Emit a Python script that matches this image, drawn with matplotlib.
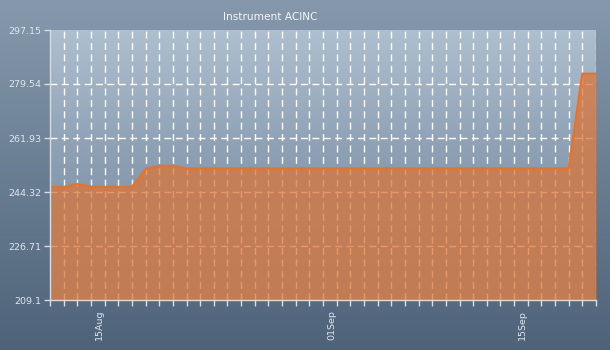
import numpy as np
import pandas as pd
import matplotlib
matplotlib.use("Agg")
import matplotlib.pyplot as plt
import matplotlib.dates as mdates
import matplotlib.transforms as mtrans
from matplotlib.colors import LinearSegmentedColormap

title = "Instrument ACINC"
dates = pd.date_range("2014-08-11", "2014-09-20", freq="D")
values = ([246.0, 246.0, 246.9, 246.1, 246.0, 246.0, 246.0, 251.8, 252.9, 252.9, 251.9]
          + [252.0] * 28 + [282.9, 282.9])
y_ticks = [209.1, 226.71, 244.32, 261.93, 279.54, 297.15]
x_label_dates = ["2014-08-15", "2014-09-01", "2014-09-15"]
x_label_texts = ["15Aug", "01Sep", "15Sep"]

W, H = 610, 350
fig = plt.figure(figsize=(W / 100, H / 100), dpi=100)

# figure background gradient
bg = fig.add_axes([0, 0, 1, 1], zorder=-10)
grad = np.linspace(0, 1, 256).reshape(-1, 1)
cm_bg = LinearSegmentedColormap.from_list("bg", ["#8699ac", "#4e6379"])
bg.imshow(grad, aspect="auto", cmap=cm_bg, extent=[0, 1, 0, 1], origin="upper")
bg.set_axis_off()

ax = fig.add_axes([50 / W, (H - 300) / H, (596 - 50) / W, (300 - 30) / H])
ax.patch.set_alpha(0)
x0, x1 = mdates.date2num(dates[0]), mdates.date2num(dates[-1])
cm_pl = LinearSegmentedColormap.from_list("pl", ["#aebfcf", "#8a9db1", "#7a8ea4"])
ax.imshow(grad, aspect="auto", cmap=cm_pl, extent=[x0, x1, y_ticks[0], y_ticks[-1]],
          origin="upper", zorder=0)

# grid
for d in dates[1:]:
    ax.axvline(mdates.date2num(d), color="white", lw=1.0, ls=(0, (5, 3.2)), zorder=1)
for yv in y_ticks[1:-1]:
    ax.axhline(yv, color="white", lw=1.0, ls=(0, (5, 3.2)), zorder=1)

xn = mdates.date2num(dates)
ax.fill_between(xn, y_ticks[0], values, color="#da763a", alpha=0.75, lw=0, zorder=2)
ax.plot(xn, values, color="#f0701e", lw=1.6, zorder=3)

ax.set_xlim(x0, x1)
ax.set_ylim(y_ticks[0], y_ticks[-1])
ax.set_yticks(y_ticks)
ax.set_yticklabels([f"{v:g}" for v in y_ticks])
ax.set_xticks(xn)
lbl_map = dict(zip(pd.to_datetime(x_label_dates), x_label_texts))
ax.set_xticklabels([lbl_map.get(d, "") for d in dates], rotation=90)

for s in ["top", "right"]:
    ax.spines[s].set_visible(False)
for s in ["left", "bottom"]:
    ax.spines[s].set_color("#d5dde5")
    ax.spines[s].set_linewidth(1.0)
    ax.spines[s].set_zorder(5)
ax.tick_params(axis="both", colors="#d5dde5", labelcolor="#dfe6ec", labelsize=6.8,
               length=4, width=1)
ax.tick_params(axis="y", pad=2)
ax.tick_params(axis="x", pad=3)

offset = mtrans.ScaledTranslation(-5 / 100, 0, fig.dpi_scale_trans)
for lab in ax.get_xticklabels():
    lab.set_transform(lab.get_transform() + offset)
    lab.set_verticalalignment("top")

fig.text(270.5 / W, 1 - 17 / H, title, ha="center", va="center", color="#f2f5f8",
         fontsize=7.6)

fig.savefig("out.png", dpi=100)
